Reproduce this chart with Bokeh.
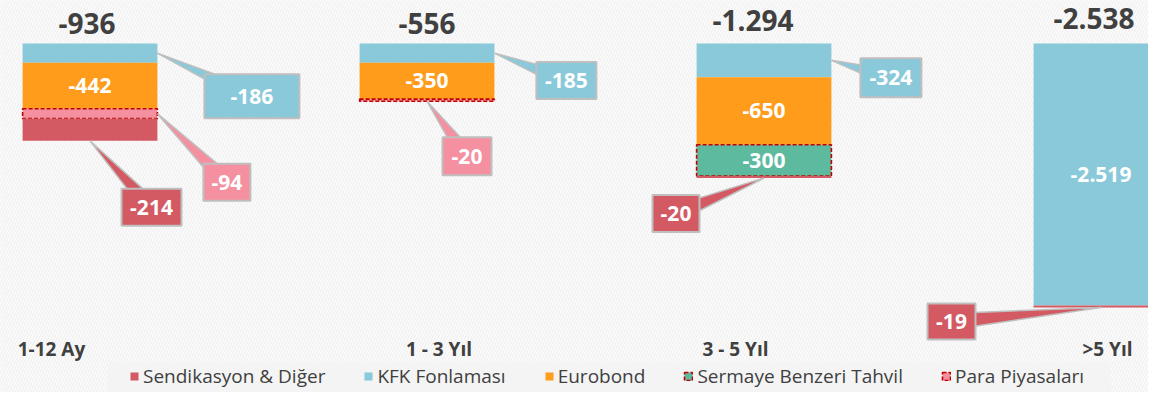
import numpy as np
from bokeh.plotting import figure
from bokeh.models import (ColumnDataSource, Range1d, BoxAnnotation, Legend,
                          LegendItem, CDSView, IndexFilter)
from bokeh.transform import stack
from bokeh.core.properties import value
from bokeh.embed import file_html
from bokeh.resources import INLINE

# ---------------- data ----------------
categories = ["1-12 Ay", "1 - 3 Yıl", "3 - 5 Yıl", ">5 Yıl"]
kfk = [-186, -185, -324, -2519]
eurobond = [-442, -350, -650, 0]
sermaye = [0, 0, -300, 0]
para = [-94, -20, 0, 0]
sendikasyon = [-214, 0, -20, -19]
totals = [-936, -556, -1294, -2538]

# ---------------- layout / style ----------------
W, H = 1148, 392
X0_PX, STEP, ZERO_PX, K = 89.5, 337.0, 43.0, 0.104
FONT = value("Open Sans")
DARK = "#404040"
GRAY = "#bfbfbf"

series = [  # stack order from zero downward
    ("KFK Fonlaması", "kfk", kfk, "#89c9da", None, "solid"),
    ("Eurobond", "eurobond", eurobond, "#ff9c1b", None, "solid"),
    ("Sermaye Benzeri Tahvil", "sermaye", sermaye, "#5dba9f", "#c00000", "4 2"),
    ("Para Piyasaları", "para", para, "#f4909f", "#c00000", "4 2"),
    ("Sendikasyon & Diğer", "sendikasyon", sendikasyon, "#d35a63", None, "solid"),
]
legend_order = ["Sendikasyon & Diğer", "KFK Fonlaması", "Eurobond",
                "Sermaye Benzeri Tahvil", "Para Piyasaları"]

inside = {("eurobond", 0), ("eurobond", 1), ("eurobond", 2), ("sermaye", 2), ("kfk", 3)}
# callouts: (series key, category) -> (anchor, dx, dy, w, h) in pixels
callouts = {
    ("kfk", 0): ("right", 94.5, 43, 95, 44),
    ("para", 0): ("right", 69.5, 68.5, 47, 37),
    ("sendikasyon", 0): ("bottom", 61.5, 66.5, 60, 37),
    ("kfk", 1): ("right", 72, 27.5, 60, 37),
    ("para", 1): ("bottom", 40, 55, 49, 38),
    ("kfk", 2): ("right", 59.5, 17.5, 61, 39),
    ("sendikasyon", 2): ("bottom", -88, 35.5, 47, 37),
    ("sendikasyon", 3): ("bottom", -149.5, 14, 48, 36),
}
cat_label_dx = [-38.5, 12, -28.5, 6.5]
total_dx = [-3, 0, -11, -7]
total_dy = [-20, -20, -23, -25]


def to_px(x, y):
    return X0_PX + x * STEP, ZERO_PX - y * K


def to_data(px, py):
    return (px - X0_PX) / STEP, (ZERO_PX - py) / K


def fmt(v):
    return f"{v:,}".replace(",", ".")


p = figure(width=W, height=H, output_backend="svg", toolbar_location=None,
           x_range=Range1d(-X0_PX / STEP, (W - X0_PX) / STEP),
           y_range=Range1d(-(H - ZERO_PX) / K, ZERO_PX / K),
           x_axis_location=None, y_axis_location=None,
           min_border=0, background_fill_color="#f2f2f2",
           border_fill_color="#f2f2f2", outline_line_color=None)
p.grid.visible = False

# hatched background
p.add_layout(BoxAnnotation(fill_color="#f1f1f1", fill_alpha=1.0, line_color=None,
                           hatch_pattern="/", hatch_color="#ffffff", hatch_alpha=0.9,
                           hatch_scale=6, hatch_weight=1.2, level="underlay"))

xs = list(range(len(categories)))
src = ColumnDataSource(dict(x=xs, **{key: vals for _, key, vals, *_ in series}))

renderers = {}
keys = []
seg = {}
cum = np.zeros(len(xs))
for name, key, vals, fill, lc, dash in series:
    bottom = stack(*keys) if keys else 0
    keys.append(key)
    top = stack(*keys)
    idx = [i for i, v in enumerate(vals) if v != 0]
    r = p.vbar(x="x", width=0.4, bottom=bottom, top=top, source=src,
               view=CDSView(filter=IndexFilter(idx)),
               fill_color=fill, line_color=lc if lc else None,
               line_dash=dash, line_width=1.6)
    renderers[name] = r
    for i, v in enumerate(vals):
        seg[(key, i)] = (cum[i], cum[i] + v)
    cum = cum + np.array(vals)

colors = {key: fill for _, key, _, fill, _, _ in series}
values = {key: vals for _, key, vals, *_ in series}

# inside labels
for (key, i) in sorted(inside, key=lambda t: (t[1], t[0])):
    t0, t1 = seg[(key, i)]
    p.text(x=[i], y=[(t0 + t1) / 2], text=[fmt(values[key][i])], text_font=FONT,
           text_font_size="21px", text_font_style="bold",
           text_color="white", text_align="center", text_baseline="middle")

# callouts
tail_xs, tail_ys, tail_c = [], [], []
box_x, box_y, box_w, box_h, box_c, box_t = [], [], [], [], [], []
for (key, i), (anchor, dx, dy, w, h) in callouts.items():
    t0, t1 = seg[(key, i)]
    if anchor == "right":
        ax, ay = to_px(i + 0.2, (t0 + t1) / 2)
    else:
        ax, ay = to_px(i, t1)
    cx, cy = ax + dx, ay + dy
    d = np.hypot(dx, dy)
    nx, ny = -dy / d, dx / d
    hw = 8
    pts = [(ax, ay), (cx + nx * hw, cy + ny * hw), (cx - nx * hw, cy - ny * hw)]
    dpts = [to_data(*pt) for pt in pts]
    tail_xs.append([q[0] for q in dpts])
    tail_ys.append([q[1] for q in dpts])
    tail_c.append(colors[key])
    bx, by = to_data(cx, cy)
    box_x.append(bx); box_y.append(by); box_w.append(w); box_h.append(h)
    box_c.append(colors[key]); box_t.append(fmt(values[key][i]))

p.patches(xs=tail_xs, ys=tail_ys, fill_color=tail_c, line_color=GRAY, line_width=1.5)
p.rect(x=box_x, y=box_y, width=box_w, height=box_h, width_units="screen",
       height_units="screen", fill_color=box_c, line_color=GRAY, line_width=2)
p.text(x=box_x, y=box_y, text=box_t, text_font=FONT, text_font_size="21px",
       text_font_style="bold", text_color="white", text_align="center",
       text_baseline="middle")

# totals
p.text(x=xs, y=[0] * len(xs), text=[fmt(t) for t in totals], x_offset=total_dx,
       y_offset=total_dy, text_font=FONT, text_font_size="28px", text_font_style="bold",
       text_color=DARK, text_align="center", text_baseline="middle")

# category labels
p.text(x=xs, y=[0] * len(xs), text=categories, x_offset=cat_label_dx, y_offset=305,
       text_font=FONT, text_font_size="19px", text_font_style="bold",
       text_color=DARK, text_align="center", text_baseline="middle")

# legend background
lx0, ly0 = to_data(107, 362)
lx1, ly1 = to_data(1110, 400)
p.add_layout(BoxAnnotation(left=lx0, right=lx1, top=ly0, bottom=ly1,
                           fill_color="#f4f4f4", fill_alpha=1.0, line_color=None))

legend = Legend(items=[LegendItem(label=n, renderers=[renderers[n]]) for n in legend_order],
                orientation="horizontal", location=(129, 3),
                label_text_font="Open Sans", label_text_font_size="19px",
                label_text_color=DARK, glyph_width=10, glyph_height=10,
                label_standoff=4, spacing=38, padding=0, margin=0,
                background_fill_alpha=0, border_line_alpha=0)
p.add_layout(legend)

open("out.html", "w").write(file_html(p, INLINE))
